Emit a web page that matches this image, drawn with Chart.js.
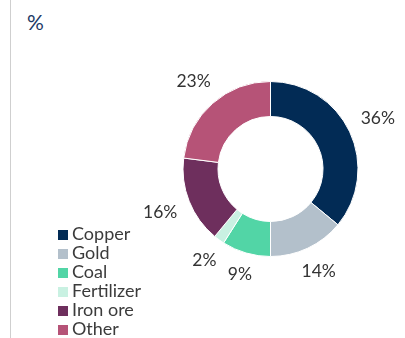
<!DOCTYPE html>
<html>
<head>
<meta charset="utf-8">
<script src="https://cdn.jsdelivr.net/npm/chart.js@4"></script>
<style>
  html, body { margin: 0; padding: 0; background: #fff; }
  #wrap { position: relative; width: 405px; height: 338px; overflow: hidden; font-family: Lato, "Open Sans", sans-serif; }
  #rule { position: absolute; left: 10px; top: 0; width: 1px; height: 338px; background: #cfcfcf; }
  #unit { position: absolute; left: 27px; top: 9px; font-size: 21px; color: #1d3a66; }
  #chartBox { position: absolute; left: 0; top: 0; width: 405px; height: 338px; }
  #legend { position: absolute; left: 58px; top: 224px; }
  #legend div { height: 19px; line-height: 19px; font-size: 18px; color: #3b3b3b; white-space: nowrap; }
  #legend span { display: inline-block; width: 10px; height: 10px; margin-right: 4px; vertical-align: 0px; }
</style>
</head>
<body>
<div id="wrap">
  <div id="rule"></div>
  <div id="unit">%</div>
  <div id="chartBox"><canvas id="myChart"></canvas></div>
  <div id="legend"></div>
</div>
<script>
const categories = ['Copper', 'Gold', 'Coal', 'Fertilizer', 'Iron ore', 'Other'];
const shares = [36, 14, 9, 2, 16, 23];
const colours = ['#022b55', '#b3c0cb', '#52d5a6', '#c9f1e2', '#6e2f5d', '#b65377'];

// legend
const legend = document.getElementById('legend');
categories.forEach((name, i) => {
    const row = document.createElement('div');
    const box = document.createElement('span');
    box.style.background = colours[i];
    row.appendChild(box);
    row.appendChild(document.createTextNode(name));
    legend.appendChild(row);
});

// percent labels outside each slice
const outsideLabels = {
    id: 'outsideLabels',
    afterDatasetsDraw(chart) {
        const ctx = chart.ctx;
        const arcs = chart.getDatasetMeta(0).data;
        ctx.save();
        ctx.font = '17.5px Lato, "Open Sans", sans-serif';
        ctx.fillStyle = '#333333';
        ctx.textAlign = 'center';
        ctx.textBaseline = 'middle';
        arcs.forEach((arc, i) => {
            const p = arc.getProps(['x', 'y', 'startAngle', 'endAngle', 'outerRadius']);
            const mid = (p.startAngle + p.endAngle) / 2;
            const text = shares[i] + '%';
            const w = ctx.measureText(text).width;
            const c = Math.cos(mid), s = Math.sin(mid);
            const r = p.outerRadius + 13 + (w / 2) * Math.abs(c) + 6 * Math.abs(s);
            ctx.fillText(text, p.x + r * c, p.y + r * s);
        });
        ctx.restore();
    }
};

new Chart(document.getElementById('myChart'), {
    type: 'doughnut',
    data: {
        labels: categories,
        datasets: [{
            data: shares,
            backgroundColor: colours,
            borderColor: '#ffffff',
            borderWidth: 1
        }]
    },
    options: {
        responsive: true,
        maintainAspectRatio: false,
        animation: false,
        cutout: '60%',
        layout: { padding: { left: 182, right: 46, top: 81, bottom: 81 } },
        plugins: {
            legend: { display: false },
            tooltip: { enabled: false }
        }
    },
    plugins: [outsideLabels]
});
</script>
</body>
</html>
